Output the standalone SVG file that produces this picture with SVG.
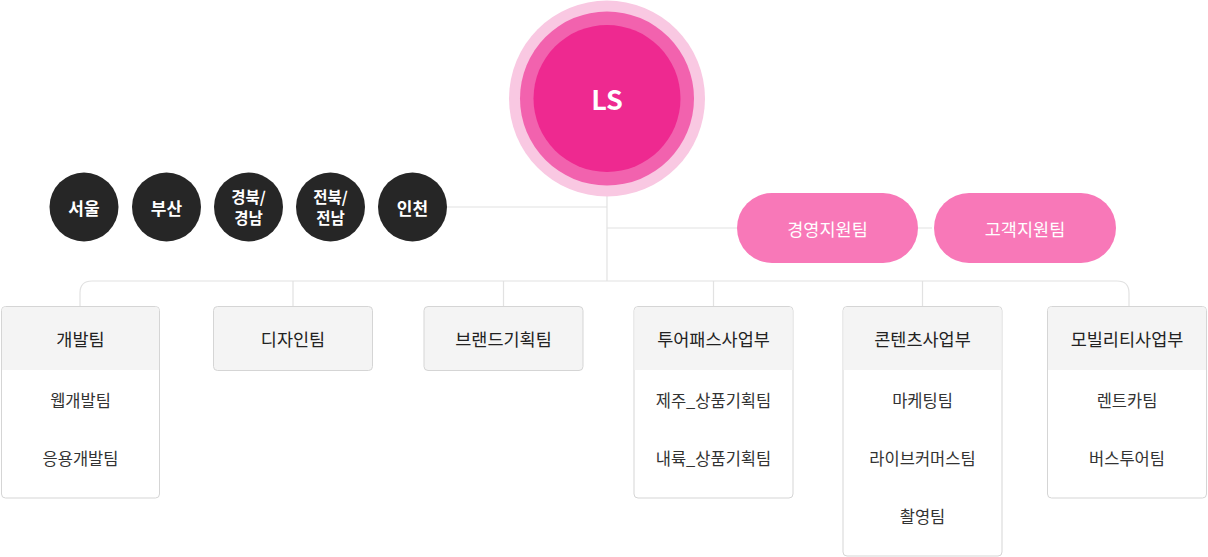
<svg xmlns="http://www.w3.org/2000/svg" width="1208" height="557" viewBox="0 0 1208 557">
<style>
text{font-family:"Noto Sans CJK KR","Noto Sans",sans-serif;text-anchor:middle;dominant-baseline:central}
.ln{fill:none;stroke:#e2e2e2;stroke-width:1.2}
.dk{fill:#262626}
.dt{fill:#fff;font-size:17px;font-weight:700}
.dt2{fill:#fff;font-size:15.5px;font-weight:700}
.pk{fill:#f878b8}
.pt{fill:#fff;font-size:17.5px}
.box{fill:#fff;stroke:#d5d5d5;stroke-width:1}
.hd{fill:#f4f4f4}
.ht{fill:#222;font-size:17.5px}
.it{fill:#333;font-size:16.5px}
</style>
<g id="connectors">
<path class="ln" d="M607 196V281"/>
<path class="ln" d="M447 207H607"/>
<path class="ln" d="M607 228H932"/>
<path class="ln" d="M80 306V293Q80 281 92 281H1117Q1129 281 1129 293V306"/>
<path class="ln" d="M293 281V306M503.5 281V306M713.5 281V306M922.5 281V306"/>
</g>
<g id="ls">
<circle cx="607" cy="98.5" r="98" fill="#f9c8e2"/>
<circle cx="607" cy="98.5" r="87" fill="#f262ae"/>
<circle cx="607" cy="98.5" r="73.5" fill="#ee2990"/>
<text x="607" y="98" fill="#fff" font-size="27" font-weight="700">LS</text>
</g>
<g id="seoul"><circle class="dk" cx="84" cy="207" r="34.5"/><text class="dt" x="84" y="207">서울</text></g>
<g id="busan"><circle class="dk" cx="166.5" cy="207" r="34.5"/><text class="dt" x="166.5" y="207">부산</text></g>
<g id="gyeongbuk"><circle class="dk" cx="248.5" cy="207" r="34.5"/><text class="dt2" x="248.5" y="196">경북/</text><text class="dt2" x="248.5" y="217">경남</text></g>
<g id="jeonbuk"><circle class="dk" cx="330.5" cy="207" r="34.5"/><text class="dt2" x="330.5" y="196">전북/</text><text class="dt2" x="330.5" y="217">전남</text></g>
<g id="incheon"><circle class="dk" cx="412.5" cy="207" r="34.5"/><text class="dt" x="412.5" y="207">인천</text></g>
<g id="mgmt"><rect class="pk" x="737" y="193" width="181" height="70" rx="35"/><text class="pt" x="827.5" y="228">경영지원팀</text></g>
<g id="cs"><rect class="pk" x="934" y="193" width="182" height="70" rx="35"/><text class="pt" x="1025" y="228">고객지원팀</text></g>
<g id="dev">
<rect class="box" x="1.5" y="306.5" width="158" height="191.5" rx="4"/>
<path class="hd" d="M2 311Q2 307 6 307H155Q159 307 159 311V370H2Z"/>
<text class="ht" x="80.5" y="338">개발팀</text>
<text class="it" x="80.5" y="400">웹개발팀</text>
<text class="it" x="80.5" y="458">응용개발팀</text>
</g>
<g id="design">
<rect class="box" x="213.5" y="306.5" width="159" height="64" rx="4" style="fill:#f4f4f4"/>
<text class="ht" x="293" y="338">디자인팀</text>
</g>
<g id="brand">
<rect class="box" x="424" y="306.5" width="159" height="64" rx="4" style="fill:#f4f4f4"/>
<text class="ht" x="503.5" y="338">브랜드기획팀</text>
</g>
<g id="tourpass">
<rect class="box" x="634" y="306.5" width="159" height="191.5" rx="4"/>
<path class="hd" d="M634.5 311Q634.5 307 638.5 307H788.5Q792.5 307 792.5 311V370H634.5Z"/>
<text class="ht" x="713.5" y="338">투어패스사업부</text>
<text class="it" x="713.5" y="400">제주_상품기획팀</text>
<text class="it" x="713.5" y="458">내륙_상품기획팀</text>
</g>
<g id="contents">
<rect class="box" x="843" y="306.5" width="159" height="249.5" rx="4"/>
<path class="hd" d="M843.5 311Q843.5 307 847.5 307H997.5Q1001.5 307 1001.5 311V370H843.5Z"/>
<text class="ht" x="922.5" y="338">콘텐츠사업부</text>
<text class="it" x="922.5" y="400">마케팅팀</text>
<text class="it" x="922.5" y="458">라이브커머스팀</text>
<text class="it" x="922.5" y="516">촬영팀</text>
</g>
<g id="mobility">
<rect class="box" x="1047.5" y="306.5" width="159" height="191.5" rx="4"/>
<path class="hd" d="M1048 311Q1048 307 1052 307H1202Q1206 307 1206 311V370H1048Z"/>
<text class="ht" x="1127" y="338">모빌리티사업부</text>
<text class="it" x="1127" y="400">렌트카팀</text>
<text class="it" x="1127" y="458">버스투어팀</text>
</g>
</svg>
